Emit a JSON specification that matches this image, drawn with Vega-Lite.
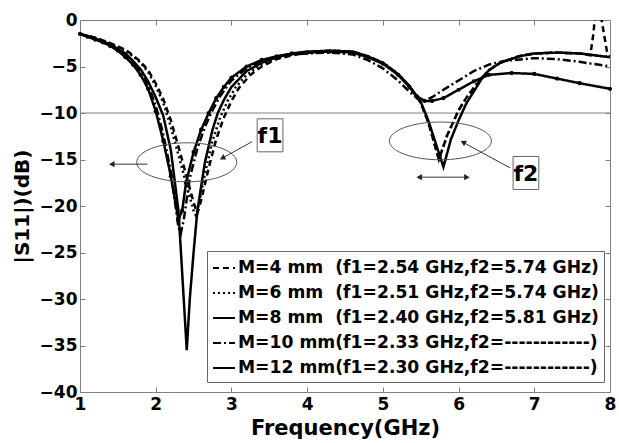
{
  "$schema": "https://vega.github.io/schema/vega-lite/v6.json",
  "width": 530,
  "height": 372,
  "autosize": "none",
  "padding": {"left": 80, "top": 20, "right": 9, "bottom": 51},
  "background": "white",
  "config": {
    "view": {"stroke": "#808080", "strokeWidth": 1},
    "font": "DejaVu Sans",
    "axis": {
      "labelFont": "DejaVu Sans", "labelFontWeight": "bold", "labelFontSize": 17, "labelColor": "black",
      "titleFont": "DejaVu Sans", "titleFontWeight": "bold", "titleColor": "black",
      "domain": false, "grid": false, "tickColor": "#808080"
    }
  },
  "datasets": {
    "curves": [
      {"s":"M=4","f":1,"db":-1.5},{"s":"M=4","f":1.2,"db":-1.9},{"s":"M=4","f":1.4,"db":-2.5},{"s":"M=4","f":1.6,"db":-3.2},{"s":"M=4","f":1.7,"db":-3.8},{"s":"M=4","f":1.8,"db":-4.5},{"s":"M=4","f":1.9,"db":-5.4},{"s":"M=4","f":2.0,"db":-6.8},{"s":"M=4","f":2.1,"db":-8.5},{"s":"M=4","f":2.2,"db":-10.8},{"s":"M=4","f":2.3,"db":-13.6},{"s":"M=4","f":2.4,"db":-16.6},{"s":"M=4","f":2.5,"db":-19.6},{"s":"M=4","f":2.55,"db":-20.8},{"s":"M=4","f":2.6,"db":-19.4},{"s":"M=4","f":2.7,"db":-15.9},{"s":"M=4","f":2.8,"db":-12.8},{"s":"M=4","f":2.9,"db":-10.5},{"s":"M=4","f":3.0,"db":-8.7},{"s":"M=4","f":3.1,"db":-7.3},{"s":"M=4","f":3.25,"db":-5.9},{"s":"M=4","f":3.4,"db":-5.0},{"s":"M=4","f":3.6,"db":-4.2},{"s":"M=4","f":3.8,"db":-3.8},{"s":"M=4","f":4.0,"db":-3.5},{"s":"M=4","f":4.3,"db":-3.3},{"s":"M=4","f":4.6,"db":-3.4},{"s":"M=4","f":4.8,"db":-3.9},{"s":"M=4","f":5.0,"db":-4.6},{"s":"M=4","f":5.2,"db":-5.8},{"s":"M=4","f":5.35,"db":-7.1},{"s":"M=4","f":5.5,"db":-8.9},{"s":"M=4","f":5.6,"db":-11.0},{"s":"M=4","f":5.74,"db":-15.0},{"s":"M=4","f":5.85,"db":-12.4},{"s":"M=4","f":6.0,"db":-9.7},{"s":"M=4","f":6.1,"db":-8.4},{"s":"M=4","f":6.2,"db":-7.3},{"s":"M=4","f":6.3,"db":-6.3},{"s":"M=4","f":6.4,"db":-5.4},{"s":"M=4","f":6.55,"db":-4.6},{"s":"M=4","f":6.8,"db":-3.9},{"s":"M=4","f":7.0,"db":-3.6},{"s":"M=4","f":7.3,"db":-3.5},{"s":"M=4","f":7.6,"db":-3.6},{"s":"M=4","f":7.74,"db":-3.8},{"s":"M=4","f":7.78,"db":-1.5},{"s":"M=4","f":7.81,"db":1},{"s":"M=4","f":7.87,"db":1},{"s":"M=4","f":7.91,"db":-1},{"s":"M=4","f":7.96,"db":-3.4},{"s":"M=4","f":8.0,"db":-3.9},

      {"s":"M=6","f":1,"db":-1.5},{"s":"M=6","f":1.2,"db":-1.9},{"s":"M=6","f":1.4,"db":-2.5},{"s":"M=6","f":1.6,"db":-3.3},{"s":"M=6","f":1.7,"db":-3.9},{"s":"M=6","f":1.8,"db":-4.6},{"s":"M=6","f":1.9,"db":-5.6},{"s":"M=6","f":2.0,"db":-7.1},{"s":"M=6","f":2.1,"db":-8.9},{"s":"M=6","f":2.2,"db":-11.5},{"s":"M=6","f":2.3,"db":-14.5},{"s":"M=6","f":2.4,"db":-17.5},{"s":"M=6","f":2.5,"db":-20.5},{"s":"M=6","f":2.53,"db":-21.0},{"s":"M=6","f":2.58,"db":-19.5},{"s":"M=6","f":2.65,"db":-16.5},{"s":"M=6","f":2.75,"db":-13.0},{"s":"M=6","f":2.85,"db":-10.5},{"s":"M=6","f":2.95,"db":-8.7},{"s":"M=6","f":3.05,"db":-7.3},{"s":"M=6","f":3.2,"db":-5.9},{"s":"M=6","f":3.4,"db":-4.8},{"s":"M=6","f":3.6,"db":-4.1},{"s":"M=6","f":3.8,"db":-3.7},{"s":"M=6","f":4.0,"db":-3.5},{"s":"M=6","f":4.3,"db":-3.3},{"s":"M=6","f":4.6,"db":-3.4},{"s":"M=6","f":4.8,"db":-3.9},{"s":"M=6","f":5.0,"db":-4.6},{"s":"M=6","f":5.2,"db":-5.8},{"s":"M=6","f":5.35,"db":-7.1},{"s":"M=6","f":5.5,"db":-8.9},{"s":"M=6","f":5.6,"db":-11.0},{"s":"M=6","f":5.74,"db":-15.0},{"s":"M=6","f":5.85,"db":-12.4},{"s":"M=6","f":6.0,"db":-9.7},{"s":"M=6","f":6.1,"db":-8.4},{"s":"M=6","f":6.2,"db":-7.3},{"s":"M=6","f":6.3,"db":-6.3},{"s":"M=6","f":6.4,"db":-5.4},{"s":"M=6","f":6.55,"db":-4.6},{"s":"M=6","f":6.8,"db":-3.9},{"s":"M=6","f":7.0,"db":-3.6},{"s":"M=6","f":7.3,"db":-3.5},{"s":"M=6","f":7.6,"db":-3.6},{"s":"M=6","f":8.0,"db":-4.0},

      {"s":"M=8","f":1,"db":-1.5},{"s":"M=8","f":1.2,"db":-2.0},{"s":"M=8","f":1.4,"db":-2.6},{"s":"M=8","f":1.6,"db":-3.6},{"s":"M=8","f":1.7,"db":-4.4},{"s":"M=8","f":1.8,"db":-5.3},{"s":"M=8","f":1.9,"db":-6.6},{"s":"M=8","f":2.0,"db":-8.3},{"s":"M=8","f":2.1,"db":-10.3},{"s":"M=8","f":2.2,"db":-14.0},{"s":"M=8","f":2.3,"db":-20.5},{"s":"M=8","f":2.33,"db":-24.5},{"s":"M=8","f":2.37,"db":-30.0},{"s":"M=8","f":2.41,"db":-35.5},{"s":"M=8","f":2.45,"db":-30.0},{"s":"M=8","f":2.5,"db":-25.0},{"s":"M=8","f":2.55,"db":-20.5},{"s":"M=8","f":2.65,"db":-15.3},{"s":"M=8","f":2.75,"db":-11.8},{"s":"M=8","f":2.82,"db":-10.0},{"s":"M=8","f":2.9,"db":-8.6},{"s":"M=8","f":3.0,"db":-7.2},{"s":"M=8","f":3.2,"db":-5.5},{"s":"M=8","f":3.4,"db":-4.6},{"s":"M=8","f":3.6,"db":-4.0},{"s":"M=8","f":3.8,"db":-3.6},{"s":"M=8","f":4.0,"db":-3.4},{"s":"M=8","f":4.3,"db":-3.3},{"s":"M=8","f":4.6,"db":-3.4},{"s":"M=8","f":4.8,"db":-3.9},{"s":"M=8","f":5.0,"db":-4.6},{"s":"M=8","f":5.2,"db":-5.8},{"s":"M=8","f":5.35,"db":-7.1},{"s":"M=8","f":5.5,"db":-8.8},{"s":"M=8","f":5.6,"db":-10.8},{"s":"M=8","f":5.7,"db":-13.3},{"s":"M=8","f":5.8,"db":-15.8},{"s":"M=8","f":5.9,"db":-12.8},{"s":"M=8","f":6.0,"db":-10.8},{"s":"M=8","f":6.1,"db":-9.0},{"s":"M=8","f":6.2,"db":-7.7},{"s":"M=8","f":6.3,"db":-6.4},{"s":"M=8","f":6.4,"db":-5.4},{"s":"M=8","f":6.55,"db":-4.6},{"s":"M=8","f":6.8,"db":-3.9},{"s":"M=8","f":7.0,"db":-3.6},{"s":"M=8","f":7.3,"db":-3.5},{"s":"M=8","f":7.6,"db":-3.6},{"s":"M=8","f":8.0,"db":-4.0},

      {"s":"M=10","f":1,"db":-1.5},{"s":"M=10","f":1.2,"db":-2.0},{"s":"M=10","f":1.4,"db":-2.7},{"s":"M=10","f":1.6,"db":-3.8},{"s":"M=10","f":1.7,"db":-4.6},{"s":"M=10","f":1.8,"db":-5.6},{"s":"M=10","f":1.9,"db":-7.0},{"s":"M=10","f":2.0,"db":-9.2},{"s":"M=10","f":2.1,"db":-12.3},{"s":"M=10","f":2.2,"db":-16.3},{"s":"M=10","f":2.3,"db":-22.3},{"s":"M=10","f":2.33,"db":-23.0},{"s":"M=10","f":2.37,"db":-21.5},{"s":"M=10","f":2.45,"db":-17.0},{"s":"M=10","f":2.55,"db":-13.8},{"s":"M=10","f":2.65,"db":-11.5},{"s":"M=10","f":2.75,"db":-9.7},{"s":"M=10","f":2.85,"db":-8.2},{"s":"M=10","f":3.0,"db":-6.5},{"s":"M=10","f":3.2,"db":-5.2},{"s":"M=10","f":3.4,"db":-4.4},{"s":"M=10","f":3.6,"db":-4.0},{"s":"M=10","f":3.8,"db":-3.7},{"s":"M=10","f":4.0,"db":-3.6},{"s":"M=10","f":4.3,"db":-3.5},{"s":"M=10","f":4.6,"db":-3.7},{"s":"M=10","f":4.8,"db":-4.3},{"s":"M=10","f":5.0,"db":-5.2},{"s":"M=10","f":5.2,"db":-6.5},{"s":"M=10","f":5.35,"db":-7.7},{"s":"M=10","f":5.45,"db":-8.4},{"s":"M=10","f":5.55,"db":-8.7},{"s":"M=10","f":5.65,"db":-8.3},{"s":"M=10","f":5.8,"db":-7.5},{"s":"M=10","f":6.0,"db":-6.5},{"s":"M=10","f":6.2,"db":-5.5},{"s":"M=10","f":6.4,"db":-4.8},{"s":"M=10","f":6.6,"db":-4.4},{"s":"M=10","f":7.0,"db":-4.1},{"s":"M=10","f":7.3,"db":-4.2},{"s":"M=10","f":7.6,"db":-4.5},{"s":"M=10","f":8.0,"db":-5.0},

      {"s":"M=12","f":1,"db":-1.5},{"s":"M=12","f":1.1,"db":-1.8},{"s":"M=12","f":1.2,"db":-2.1},{"s":"M=12","f":1.3,"db":-2.4},{"s":"M=12","f":1.4,"db":-2.8},{"s":"M=12","f":1.5,"db":-3.3},{"s":"M=12","f":1.6,"db":-4.0},{"s":"M=12","f":1.7,"db":-4.8},{"s":"M=12","f":1.8,"db":-5.9},{"s":"M=12","f":1.9,"db":-7.4},{"s":"M=12","f":2.0,"db":-9.8},{"s":"M=12","f":2.1,"db":-13.0},{"s":"M=12","f":2.2,"db":-16.8},{"s":"M=12","f":2.3,"db":-21.5},{"s":"M=12","f":2.35,"db":-20.5},{"s":"M=12","f":2.4,"db":-17.5},{"s":"M=12","f":2.5,"db":-14.2},{"s":"M=12","f":2.6,"db":-11.8},{"s":"M=12","f":2.7,"db":-10.0},{"s":"M=12","f":2.8,"db":-8.4},{"s":"M=12","f":2.9,"db":-7.2},{"s":"M=12","f":3.0,"db":-6.2},{"s":"M=12","f":3.2,"db":-5.0},{"s":"M=12","f":3.4,"db":-4.3},{"s":"M=12","f":3.6,"db":-3.9},{"s":"M=12","f":3.8,"db":-3.6},{"s":"M=12","f":4.0,"db":-3.5},{"s":"M=12","f":4.3,"db":-3.4},{"s":"M=12","f":4.6,"db":-3.5},{"s":"M=12","f":4.8,"db":-4.0},{"s":"M=12","f":5.0,"db":-4.7},{"s":"M=12","f":5.2,"db":-5.9},{"s":"M=12","f":5.35,"db":-7.2},{"s":"M=12","f":5.45,"db":-8.2},{"s":"M=12","f":5.55,"db":-8.7},{"s":"M=12","f":5.65,"db":-8.7},{"s":"M=12","f":5.8,"db":-8.4},{"s":"M=12","f":6.0,"db":-7.5},{"s":"M=12","f":6.2,"db":-6.6},{"s":"M=12","f":6.4,"db":-5.9},{"s":"M=12","f":6.7,"db":-5.7},{"s":"M=12","f":7.0,"db":-5.8},{"s":"M=12","f":7.3,"db":-6.3},{"s":"M=12","f":7.6,"db":-6.8},{"s":"M=12","f":8.0,"db":-7.4}
    ]
  },
  "encoding": {
    "x": {"field": "f", "type": "quantitative", "scale": {"domain": [1, 8], "nice": false, "zero": false}},
    "y": {"field": "db", "type": "quantitative", "scale": {"domain": [-40, 0], "nice": false, "zero": false}}
  },
  "resolve": {"axis": {"x": "independent", "y": "independent"}},
  "layer": [
    {
      "data": {"values": [{"v": -10}]},
      "mark": {"type": "rule", "color": "#808080", "strokeWidth": 1},
      "encoding": {"y": {"field": "v", "type": "quantitative", "axis": null}, "x": null}
    },
    {
      "data": {"name": "curves"},
      "mark": {"type": "line", "color": "black", "strokeWidth": 2.5, "clip": true},
      "encoding": {
        "x": {"field": "f", "type": "quantitative", "scale": {"domain": [1, 8], "nice": false, "zero": false},
          "axis": {"orient": "bottom", "values": [1,2,3,4,5,6,7,8], "format": "d", "tickSize": -5, "ticks": true, "labelPadding": 9, "title": "Frequency(GHz)", "titleFontSize": 21, "titlePadding": 5, "labelFlush": false}},
        "y": {"field": "db", "type": "quantitative", "scale": {"domain": [-40, 0], "nice": false, "zero": false},
          "axis": {"orient": "left", "values": [-40,-35,-30,-25,-20,-15,-10,-5,0], "tickSize": -5, "labelPadding": 8, "title": "|S11|)(dB)", "titleFontSize": 20, "titlePadding": 7, "labelFlush": false}},
        "strokeDash": {
          "field": "s", "type": "nominal",
          "scale": {"domain": ["M=4","M=6","M=8","M=10","M=12"], "range": [[6,4],[2,3],[1,0],[8,3,2,3],[1,0]]},
          "legend": {
            "orient": "none", "legendX": 127, "legendY": 231, "title": null,
            "strokeColor": "#666", "padding": 5, "fillColor": "white",
            "symbolType": "stroke", "symbolSize": 484, "symbolStrokeColor": "black", "symbolStrokeWidth": 2,
            "labelFont": "DejaVu Sans", "labelFontWeight": "bold", "labelFontSize": 17.2, "labelColor": "black",
            "labelLimit": 500, "labelOffset": 2, "rowPadding": 4,
            "labelExpr": "datum.value == 'M=4' ? 'M=4 mm\u00a0\u00a0(f1=2.54 GHz,f2=5.74 GHz)' : datum.value == 'M=6' ? 'M=6 mm\u00a0\u00a0(f1=2.51 GHz,f2=5.74 GHz)' : datum.value == 'M=8' ? 'M=8 mm\u00a0\u00a0(f1=2.40 GHz,f2=5.81 GHz)' : datum.value == 'M=10' ? 'M=10 mm(f1=2.33 GHz,f2=------------)' : 'M=12 mm(f1=2.30 GHz,f2=------------)'"
          }
        }
      }
    },
    {
      "data": {"name": "curves"},
      "transform": [{"filter": "datum.s == 'M=12'"}],
      "mark": {"type": "point", "shape": "circle", "filled": true, "color": "black", "size": 18, "opacity": 1},
      "encoding": {
        "x": {"field": "f", "type": "quantitative", "axis": {"orient": "top", "values": [2,3,4,5,6,7], "labels": false, "tickSize": -5, "title": null}},
        "y": {"field": "db", "type": "quantitative", "axis": {"orient": "right", "values": [-35,-30,-25,-20,-15,-10,-5], "labels": false, "tickSize": -5, "title": null}}
      }
    },
    {
      "data": {"values": [{"f": 2.41, "db": -15.3}]},
      "mark": {"type": "point", "shape": "M -1 0 A 1 0.39 0 1 0 1 0 A 1 0.39 0 1 0 -1 0 Z", "size": 10000, "filled": false, "stroke": "#555", "strokeWidth": 1, "opacity": 1},
      "encoding": {"x": {"field": "f", "type": "quantitative", "axis": null}, "y": {"field": "db", "type": "quantitative", "axis": null}}
    },
    {
      "data": {"values": [{"f": 5.76, "db": -13.0}]},
      "mark": {"type": "point", "shape": "M -1 0 A 1 0.37 0 1 0 1 0 A 1 0.37 0 1 0 -1 0 Z", "size": 10404, "filled": false, "stroke": "#555", "strokeWidth": 1, "opacity": 1},
      "encoding": {"x": {"field": "f", "type": "quantitative", "axis": null}, "y": {"field": "db", "type": "quantitative", "axis": null}}
    },
    {
      "data": {"values": [
        {"f": 1.89, "db": -15.5, "f2": 1.43, "db2": -15.5},
        {"f": 3.27, "db": -13.1, "f2": 2.89, "db2": -14.8},
        {"f": 6.68, "db": -15.9, "f2": 6.07, "db2": -13.2},
        {"f": 5.49, "db": -16.9, "f2": 6.1, "db2": -16.9}
      ]},
      "mark": {"type": "rule", "color": "#333", "strokeWidth": 1},
      "encoding": {
        "x": {"field": "f", "type": "quantitative", "axis": null},
        "y": {"field": "db", "type": "quantitative", "axis": null},
        "x2": {"field": "f2"}, "y2": {"field": "db2"}
      }
    },
    {
      "data": {"values": [{"f": 1.42, "db": -15.5}, {"f": 5.48, "db": -16.9}]},
      "mark": {"type": "point", "shape": "triangle-left", "size": 40, "filled": true, "color": "#222", "opacity": 1},
      "encoding": {"x": {"field": "f", "type": "quantitative", "axis": null}, "y": {"field": "db", "type": "quantitative", "axis": null}}
    },
    {
      "data": {"values": [{"f": 6.11, "db": -16.9}]},
      "mark": {"type": "point", "shape": "triangle-right", "size": 40, "filled": true, "color": "#222", "opacity": 1},
      "encoding": {"x": {"field": "f", "type": "quantitative", "axis": null}, "y": {"field": "db", "type": "quantitative", "axis": null}}
    },
    {
      "data": {"values": [{"f": 2.88, "db": -14.85}]},
      "mark": {"type": "point", "shape": "triangle-right", "angle": 152, "size": 40, "filled": true, "color": "#222", "opacity": 1},
      "encoding": {"x": {"field": "f", "type": "quantitative", "axis": null}, "y": {"field": "db", "type": "quantitative", "axis": null}}
    },
    {
      "data": {"values": [{"f": 6.06, "db": -13.15}]},
      "mark": {"type": "point", "shape": "triangle-right", "angle": 208, "size": 40, "filled": true, "color": "#222", "opacity": 1},
      "encoding": {"x": {"field": "f", "type": "quantitative", "axis": null}, "y": {"field": "db", "type": "quantitative", "axis": null}}
    },
    {
      "data": {"values": [{"f": 3.51, "db": -12.4}, {"f": 6.89, "db": -16.45}]},
      "mark": {"type": "point", "shape": "M -0.78 -1 H 0.78 V 1 H -0.78 Z", "size": 1089, "filled": true, "fill": "white", "stroke": "#666", "strokeWidth": 1, "opacity": 1},
      "encoding": {"x": {"field": "f", "type": "quantitative", "axis": null}, "y": {"field": "db", "type": "quantitative", "axis": null}}
    },
    {
      "data": {"values": [{"f": 3.51, "db": -12.4, "t": "f1"}, {"f": 6.89, "db": -16.45, "t": "f2"}]},
      "mark": {"type": "text", "font": "DejaVu Sans", "fontWeight": "bold", "fontSize": 22, "color": "black", "align": "center", "baseline": "middle", "dy": 1},
      "encoding": {"x": {"field": "f", "type": "quantitative", "axis": null}, "y": {"field": "db", "type": "quantitative", "axis": null}, "text": {"field": "t"}}
    }
  ]
}
